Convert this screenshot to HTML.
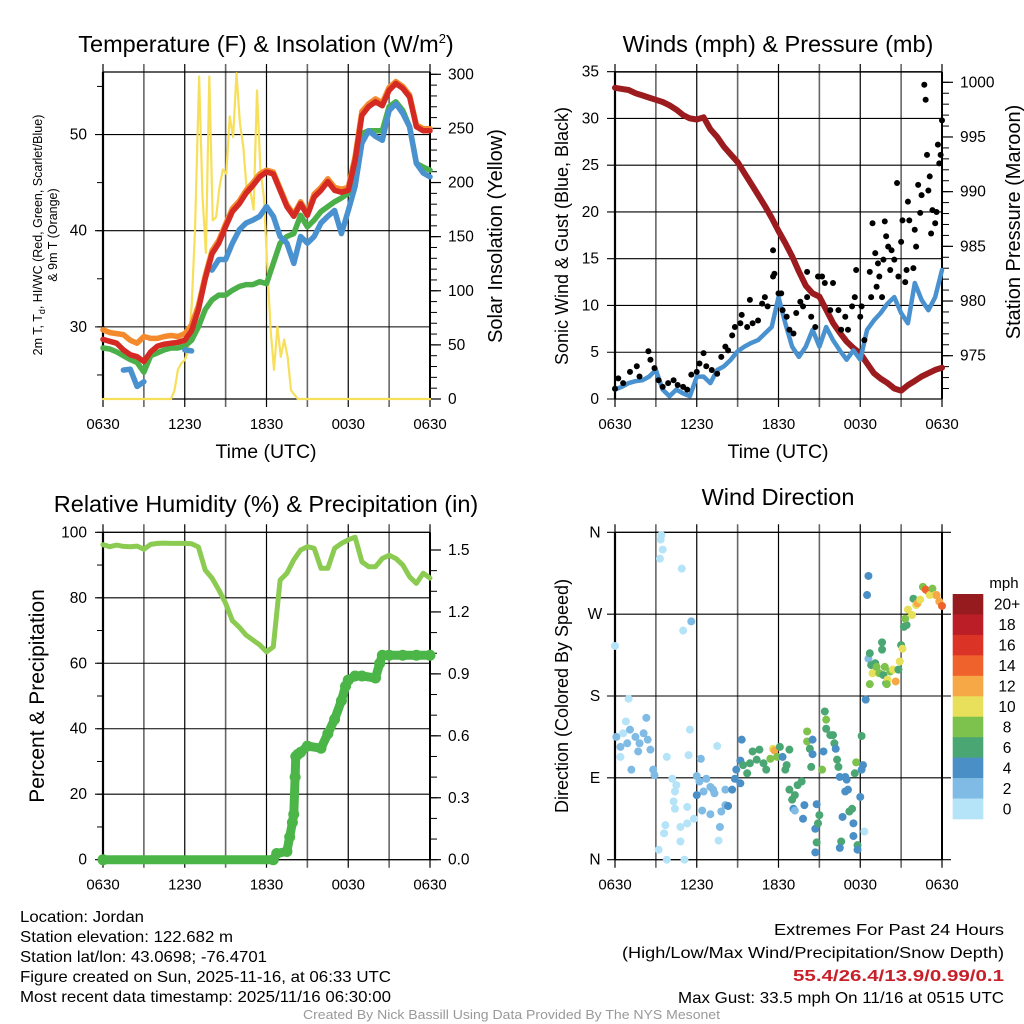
<!DOCTYPE html>
<html><head><meta charset="utf-8"><style>
html,body{margin:0;padding:0;background:#fff;}
svg{display:block;font-family:"Liberation Sans",sans-serif;}
</style></head><body>
<svg id="fig" xmlns="http://www.w3.org/2000/svg" width="1024" height="1024" viewBox="0 0 1024 1024">
<rect x="0" y="0" width="1024" height="1024" fill="#fff"/>
<text x="266" y="52" font-size="23.5" text-anchor="middle">Temperature (F) &amp; Insolation (W/m<tspan dy="-9" font-size="13">2</tspan><tspan dy="9">)</tspan></text>
<text x="778" y="52" font-size="23.5" text-anchor="middle">Winds (mph) &amp; Pressure (mb)</text>
<text x="266" y="512" font-size="23.5" text-anchor="middle">Relative Humidity (%) &amp; Precipitation (in)</text>
<text x="778" y="505" font-size="23.5" text-anchor="middle">Wind Direction</text>
<text x="266" y="458" font-size="19.5" text-anchor="middle">Time (UTC)</text>
<text x="778" y="458" font-size="19.5" text-anchor="middle">Time (UTC)</text>
<text transform="translate(42,235) rotate(-90)" font-size="12.5" text-anchor="middle">2m T, T<tspan dy="3" font-size="9">d</tspan><tspan dy="-3">, HI/WC (Red, Green, Scarlet/Blue)</tspan></text>
<text transform="translate(57,235) rotate(-90)" font-size="12.5" text-anchor="middle">&amp; 9m T (Orange)</text>
<text transform="translate(502,236) rotate(-90)" font-size="20" text-anchor="middle">Solar Insolation (Yellow)</text>
<text transform="translate(568,236) rotate(-90)" font-size="18" text-anchor="middle">Sonic Wind &amp; Gust (Blue, Black)</text>
<text transform="translate(1020,222) rotate(-90)" font-size="20" text-anchor="middle">Station Pressure (Maroon)</text>
<text transform="translate(44,696) rotate(-90)" font-size="21" text-anchor="middle">Percent &amp; Precipitation</text>
<text transform="translate(568,696) rotate(-90)" font-size="18" text-anchor="middle">Direction (Colored By Speed)</text>
<g font-size="16">
<text x="20" y="922" textLength="124" lengthAdjust="spacingAndGlyphs">Location: Jordan</text>
<text x="20" y="942" textLength="213" lengthAdjust="spacingAndGlyphs">Station elevation: 122.682 m</text>
<text x="20" y="962" textLength="247" lengthAdjust="spacingAndGlyphs">Station lat/lon: 43.0698; -76.4701</text>
<text x="20" y="982" textLength="371" lengthAdjust="spacingAndGlyphs">Figure created on Sun, 2025-11-16, at 06:33 UTC</text>
<text x="20" y="1002" textLength="371" lengthAdjust="spacingAndGlyphs">Most recent data timestamp: 2025/11/16 06:30:00</text>
</g>
<g font-size="16">
<text x="774" y="935" textLength="230" lengthAdjust="spacingAndGlyphs">Extremes For Past 24 Hours</text>
<text x="622" y="958" textLength="382" lengthAdjust="spacingAndGlyphs">(High/Low/Max Wind/Precipitation/Snow Depth)</text>
<text x="793" y="981" fill="#c8202a" font-weight="bold" textLength="211" lengthAdjust="spacingAndGlyphs">55.4/26.4/13.9/0.99/0.1</text>
<text x="678" y="1003" textLength="326" lengthAdjust="spacingAndGlyphs">Max Gust: 33.5 mph On 11/16 at 0515 UTC</text>
</g>
<text x="303" y="1019" font-size="13" fill="#999" textLength="417" lengthAdjust="spacingAndGlyphs">Created By Nick Bassill Using Data Provided By The NYS Mesonet</text>
<g id="charts"></g>
</svg>
<script>
// ---------- DATA ----------
const timeLabels = ["0630","1230","1830","0030","0630"];
const halfHours = [0,0.5,1,1.5,2,2.5,3,3.5,4,4.5,5,5.5,6,6.5,7,7.5,8,8.5,9,9.5,10,10.5,11,11.5,12,12.5,13,13.5,14,14.5,15,15.5,16,16.5,17,17.5,18,18.5,19,19.5,20,20.5,21,21.5,22,22.5,23,23.5,24];
const tempRed = [28.7,28.5,28.3,27.6,27.1,26.9,26.4,27.4,28.0,28.2,28.3,28.4,28.6,29.6,31.8,35.0,37.6,38.7,40.4,42.0,42.8,43.9,44.7,45.6,46.1,45.9,44.2,42.5,41.5,42.8,41.6,43.5,44.2,45.1,44.2,44.0,44.2,47.3,52.0,52.9,53.4,53.0,54.6,55.3,54.8,53.9,50.8,50.4,50.4];
const tempOrange = [29.7,29.4,29.3,29.2,28.6,28.3,29.0,28.8,28.8,29.0,29.1,29.0,29.3,30.2,32.2,35.3,37.9,39.0,40.7,42.3,43.1,44.2,45.0,45.9,46.3,46.1,44.4,42.7,41.7,43.0,41.8,43.8,44.5,45.4,44.5,44.3,44.5,47.7,52.4,53.2,53.7,53.3,54.9,55.5,55.0,54.1,51.0,50.6,50.6];
const tempGreen = [27.8,27.7,27.4,27.0,26.6,26.3,25.3,27.0,27.3,27.6,27.8,27.8,28.0,28.6,30.0,31.8,32.8,33.3,33.3,33.8,34.2,34.4,34.4,34.7,34.5,36.6,38.7,39.4,39.7,41.6,40.4,41.1,42.0,42.5,43.0,43.4,43.9,46.0,50.1,50.4,50.4,50.4,52.9,53.4,52.5,50.8,47.0,46.6,46.3];
const tempBlue = [null,null,null,25.5,25.6,23.8,24.3,null,null,null,null,null,27.6,27.5,null,null,35.9,37.0,37.0,38.7,40.1,40.8,41.1,41.5,42.5,41.5,39.4,38.7,36.6,39.4,38.7,39.4,40.8,41.5,42.1,39.7,42.1,44.6,49.1,50.4,49.8,49.4,52.5,53.2,52.2,50.8,47.0,46.0,45.6];
const solarHours = [0,5,5.25,5.5,5.75,6,6.25,6.5,6.75,7.05,7.3,7.55,7.8,8.05,8.3,8.55,8.8,9.05,9.3,9.55,9.8,10.05,10.3,10.55,10.8,11.05,11.3,11.55,11.8,12.05,12.3,12.55,12.8,13.05,13.3,13.55,13.8,14.3,24];
const solarValues = [0,0,8,27,33,36,45,85,156,298,187,135,298,165,168,196,212,208,261,242,301,255,233,193,193,175,285,212,187,125,64,27,67,39,55,39,8,0,0];
const pressure = [999.5,999.4,999.3,999.0,998.8,998.6,998.4,998.2,997.9,997.5,997.0,996.7,996.6,996.8,995.7,995.0,994.1,993.4,992.7,991.7,990.7,989.7,988.7,987.6,986.4,985.3,984.1,982.7,981.4,980.7,980.4,979.2,978.0,977.1,976.3,975.7,975.2,974.3,973.4,972.9,972.5,972.0,971.8,972.3,972.7,973.1,973.4,973.7,973.9];
const sonicWind = [1.0,1.3,1.7,1.9,2.0,2.4,3.1,1.0,0.3,1.0,0.6,0.3,2.4,2.4,1.7,3.1,3.5,4.2,5.1,5.6,6.0,6.3,7.0,7.7,10.9,8.1,5.6,4.5,5.6,7.4,5.6,7.7,6.3,5.2,4.2,5.2,4.2,7.4,8.4,9.2,10.2,10.9,9.2,8.1,12.4,10.6,9.5,10.9,13.8];
const gustHours = [0,0.24,0.6,1.1,1.6,1.8,2.45,2.6,2.9,3.2,3.5,3.9,4.3,4.6,5,5.3,5.6,6,6.2,6.5,6.7,7.1,7.5,7.8,8.1,8.3,8.6,8.8,9.2,9.3,9.7,9.9,10.1,10.5,10.8,11,11.2,11.6,11.6,11.7,12,12.2,12.3,12.6,12.8,13.1,13.3,13.6,13.8,14.1,14.1,14.4,14.7,14.9,15.2,15.4,15.8,16,16.4,16.6,16.9,17.1,17.4,17.6,17.7,18,18.1,18.3,18.7,18.8,18.9,19.1,19.2,19.3,19.4,19.6,19.7,19.8,19.9,20.05,20.2,20.3,20.5,20.7,20.8,21,21.1,21.3,21.4,21.5,21.6,21.9,22,22.1,22.25,22.4,22.5,22.7,22.8,22.9,23,23.1,23.2,23.3,23.5,23.6,23.7,23.8,23.9,24];
const gustValues = [1.1,2.2,1.7,2.9,3.5,2.4,5.1,4.2,3.3,2.0,1.3,1.7,2.0,1.5,1.3,1.0,2.6,2.9,3.8,4.9,3.5,3.1,2.7,4.5,5.6,5.2,6.8,7.7,8.1,9.0,7.7,10.6,8.1,8.4,10.2,10.9,9.9,15.9,13.1,13.4,11.3,11.3,9.5,8.8,7.4,7.0,9.2,10.4,9.9,10.9,13.6,8.8,7.7,13.1,13.1,12.4,9.5,12.4,9.5,7.4,8.8,7.4,9.9,10.9,13.8,8.8,9.9,6.3,13.6,10.9,18.8,15.6,12.0,14.5,13.1,10.9,14.9,19.0,17.4,16.3,13.8,15.9,14.9,23.1,13.1,16.8,19.1,12.5,13.8,21.1,19.1,14.0,18.1,16.3,22.9,19.9,21.8,33.6,32.0,26.1,22.3,23.8,17.7,20.2,18.8,20.0,27.2,25.2,26.1,29.8];
const rhValues = [96.2,95.6,96.1,95.7,95.6,95.8,94.8,96.3,96.6,96.7,96.6,96.6,96.6,96.5,95.5,88.5,86.0,82.4,78.3,73.0,71.0,68.6,67.1,65.6,63.5,65.0,85.4,87.5,91.6,94.6,95.6,95.1,89.0,89.0,95.1,96.6,97.7,98.5,91.0,89.5,89.5,92.0,93.0,92.0,90.0,86.4,84.4,87.5,86.0];
const precipHours = [0,12.5,12.75,13.5,13.7,13.9,14.0,14.1,14.15,14.3,14.5,15,16,16.5,17,17.5,17.8,18,18.5,19,20,20.3,20.5,21,22,23,24];
const precipValues = [0,0,0.03,0.04,0.11,0.18,0.22,0.40,0.50,0.51,0.52,0.55,0.54,0.61,0.68,0.77,0.84,0.87,0.89,0.89,0.88,0.95,0.99,0.99,0.99,0.99,0.99];
const dirHoursMorning = [0,0.1,0.4,0.6,0.9,1.1,1.2,1.5,1.7,1.8,2.1,2.3,2.4,2.6,2.8,2.9,1.0,0.8,0.4,3.4,3.35,3.5,3.3,4.9,5.0,5.6,3.8,4.2,4.5,4.4,4.3,4.4,3.7,3.6,3.2,3.8,4.8,5.3,4.8,5.1,5.4,5.5,5.3,5.8,7.6,7.5,6.0,6.2,6.5,6.7,7.0,7.2,6.0,6.3,6.4,7.0,7.3,7.7,7.8,8.1,8.3,8.1,8.6,8.8,8.9,9.2,9.2,9.3];
const dirDegreesMorning = [235,135,124,139,128,143,99,135,119,128,139,156,132,121,99,93,177,152,113,357,352,341,331,320,252,262,113,89,82,75,64,56,38,29,11,0,36,40,20,0,115,143,58,45,21,125,92,86,75,89,80,77,71,111,54,50,73,36,53,60,59,77,77,89,99,84,109,132];
const dirSpeedsMorning = [1,3,2,1,2,3,3,3,3,3,3,3,3,3,3,3,1,1,1,1,1,1,1,1,1,3,1,1,1,1,1,1,1,1,1,1,1,1,1,1,1,1,1,1,1,1,3,3,3,3,3,3,5,3,3,3,3,3,3,3,5,3,5,5,5,5,5,5];
const dirHoursAfternoon = [9.4,9.7,9.9,10.1,10.4,10.6,10.9,11.1,11.4,11.6,11.7,11.9,12.1,12.3,12.6,12.8,12.5,12.8,13.0,13.2,13.4,13.7,13.1,13.2,13.8,13.9,14.1,14.1,14.3,14.4,14.5,14.5,14.7,14.8,14.9,15.0,14.8,14.7,15.2,15.3,15.4,15.5,15.5,15.8,16.0,16.1,16.2,16.3,16.4,16.5,16.9,17.0,16.9,17.1,17.2,17.4,16.7,16.6,16.5,17.5,17.5,17.8,17.8,18.0,17.6,17.7,18.1,18.2,18.1,18.3,18.4,18.5,18.6];
const dirDegreesAfternoon = [104,95,106,119,110,121,106,99,111,122,120,113,124,113,104,121,99,77,66,71,82,86,56,54,45,60,141,130,122,102,132,116,34,61,40,49,19,8,99,119,163,154,144,137,137,128,122,110,102,91,91,88,75,77,53,56,47,20,13,40,26,16,11,69,95,107,99,104,136,31,176,291,312];
const dirSpeedsAfternoon = [7,7,7,7,7,7,7,7,9,11,13,9,7,5,7,7,7,7,7,7,7,7,5,3,5,5,9,9,7,7,5,5,5,5,7,7,7,5,9,5,7,9,7,7,7,7,5,7,7,5,5,5,5,5,7,7,5,7,5,5,5,7,5,5,7,9,5,5,7,1,5,5,5];
const dirHoursOvernight = [18.6,18.7,18.8,18.9,19.1,19.2,19.4,19.6,19.6,19.7,19.8,19.9,20.0,20.2,20.4,20.6,20.8,20.9,21.0,21.1,21.2,21.4,21.3,21.5,21.8,21.9,22.1,22.2,22.4,22.6,22.8,23.0,23.1,23.3,23.5,23.6,23.8,24.0,18.7,19.95];
const dirDegreesOvernight = [221,227,214,205,216,212,205,231,239,203,212,194,198,207,209,196,209,218,236,232,256,258,265,275,269,287,280,282,286,300,297,295,291,298,291,291,284,279,193,193];
const dirSpeedsOvernight = [3,7,7,11,7,9,9,7,7,7,9,7,11,9,11,13,7,11,7,11,7,7,9,11,11,7,11,13,11,9,15,15,11,9,11,13,13,15,9,9];
const speedBinLabels = ["0","2","4","6","8","10","12","14","16","18","20+"];
const speedBinColors = ["#b5e3f7","#7fbbe4","#4a8fc6","#4aa672","#7cc24c","#e8e05a","#f7a846","#f0622b","#dc3327","#bb1e26","#951b1e"];
const tempTicks = [30,40,50];
const solarTicks = [0,50,100,150,200,250,300];
const windTicks = [0,5,10,15,20,25,30,35];
const pressureTicks = [975,980,985,990,995,1000];
const rhTicks = [0,20,40,60,80,100];
const precipTicks = [0,0.3,0.6,0.9,1.2,1.5];
const dirTicks = [0,90,180,270,360];
const dirTickLabels = ["N","E","S","W","N"];

// ---------- RENDER ----------
const NS = "http://www.w3.org/2000/svg";
const root = document.getElementById("charts");
function mk(tag, attrs, parent){
  const e = document.createElementNS(NS, tag);
  for (const k in attrs) e.setAttribute(k, attrs[k]);
  (parent||root).appendChild(e);
  return e;
}
function lin(d0,d1,r0,r1){ return v => r0 + (v-d0)*(r1-r0)/(d1-d0); }
function pathFrom(xs, ys, fx, fy){
  let d = "", pen = false;
  for (let i=0;i<xs.length;i++){
    if (ys[i]===null || ys[i]===undefined){ pen=false; continue; }
    d += (pen?"L":"M") + fx(xs[i]).toFixed(1) + "," + fy(ys[i]).toFixed(1);
    pen = true;
  }
  return d;
}
function frame(name, x0, x1, top, bottom){
  const g = mk("g", {});
  
  
  const fx = lin(0,24,x0,x1);
  for (let h=0; h<=24; h+=3){
    const major = h%6===0;
    const ln = mk("line", {x1:fx(h), x2:fx(h), y1:top-8, y2:bottom+8, stroke: major?"#000":"#666", "stroke-width": major?1.2:1.6}, g);
    
    
  }
  for (let i=0;i<timeLabels.length;i++){
    const t = mk("text", {x:fx(i*6), y:bottom+30, "font-size":15, "text-anchor":"middle"}, g);
    t.textContent = timeLabels[i];
    
    
  }
  mk("line",{x1:x0,x2:x0,y1:top,y2:bottom,stroke:"#000","stroke-width":2.2},g);
  mk("line",{x1:x1,x2:x1,y1:top,y2:bottom,stroke:"#000","stroke-width":2},g);
  mk("line",{x1:x0,x2:x1,y1:top,y2:top,stroke:"#000","stroke-width":1.2},g);
  mk("line",{x1:x0,x2:x1,y1:bottom,y2:bottom,stroke:"#000","stroke-width":1.2},g);
  return fx;
}
function leftAxis(name, ticks, fy, x0, x1, labelFn, grid, minorStep, lo, hi){
  const g = mk("g", {});
  
  
  if (minorStep){
    for (let v=Math.ceil(lo/minorStep)*minorStep; v<=hi+1e-9; v+=minorStep){
      mk("line",{x1:x0-6,x2:x0,y1:fy(v),y2:fy(v),stroke:"#000","stroke-width":1},g);
    }
  }
  ticks.forEach((v,i)=>{
    if (grid) mk("line",{x1:x0-8,x2:x1,y1:fy(v),y2:fy(v),stroke:"#000","stroke-width":1.1},g);
    const t = mk("text",{x:x0-16,y:fy(v)+5,"font-size":15.5,"text-anchor":"end"},g);
    t.textContent = labelFn(v,i);
    
    
  });
}
function rightAxis(name, ticks, fy, x1, labelFn, minorStep, lo, hi){
  const g = mk("g", {});
  
  
  for (let v=Math.ceil(lo/minorStep-1e-9)*minorStep; v<=hi+1e-9; v+=minorStep){
    mk("line",{x1:x1,x2:x1+7,y1:fy(v),y2:fy(v),stroke:"#000","stroke-width":1},g);
  }
  ticks.forEach((v,i)=>{
    mk("line",{x1:x1,x2:x1+11,y1:fy(v),y2:fy(v),stroke:"#000","stroke-width":1.2},g);
    const t = mk("text",{x:x1+18,y:fy(v)+5,"font-size":15.5,"text-anchor":"start"},g);
    t.textContent = labelFn(v,i);
    
    
  });
}

// Panel 1
(function(){
  const x0=103,x1=430,top=72,bottom=399;
  const fx = frame("temperature-chart",x0,x1,top,bottom);
  const fy = lin(22.5,56.5,bottom,top);
  const fs = lin(0,300,bottom,74.3);
  leftAxis("temperature-y-axis", tempTicks, fy, x0, x1, v=>v, true, 5, 25, 55);
  rightAxis("solar-y-axis", solarTicks, fs, x1, v=>v, 10, 0, 300);
  const series = [
    ["solar-insolation-line", solarHours, solarValues, fs, "#f7df5a", 2.2],
    ["orange-9m-temp-line", halfHours, tempOrange, fy, "#f48a2c", 5.5],
    ["green-dewpoint-line", halfHours, tempGreen, fy, "#4bb04a", 5.5],
    ["blue-windchill-line", halfHours, tempBlue, fy, "#4a92cf", 5.5],
    ["red-2m-temp-line", halfHours, tempRed, fy, "#d42a23", 5.5]
  ];
  series.forEach(s=>{
    const p = mk("path",{d:pathFrom(s[1],s[2],fx,s[3]),fill:"none",stroke:s[4],"stroke-width":s[5],"stroke-linejoin":"round","stroke-linecap":"round"});
    
    
  });
})();

// Panel 2
(function(){
  const x0=615,x1=942,top=72,bottom=399;
  const fx = frame("winds-chart",x0,x1,top,bottom);
  const fy = lin(0,35,bottom,71.7);
  const fp = lin(975,1000,355.7,82.3);
  leftAxis("wind-y-axis", windTicks, fy, x0, x1, v=>v, true, 0, 0, 0);
  rightAxis("pressure-y-axis", pressureTicks, fp, x1, v=>v, 1, 971.1, 1000.9);
  const p = mk("path",{d:pathFrom(halfHours,pressure,fx,fp),fill:"none",stroke:"#9b1b1e","stroke-width":6,"stroke-linejoin":"round","stroke-linecap":"round"});
  
  
  const w = mk("path",{d:pathFrom(halfHours,sonicWind,fx,fy),fill:"none",stroke:"#4a92cf","stroke-width":4.5,"stroke-linejoin":"round","stroke-linecap":"round"});
  
  
  for (let i=0;i<gustHours.length;i++){
    const c = mk("circle",{cx:fx(gustHours[i]),cy:fy(gustValues[i]),r:3,fill:"#000"});
    
    
  }
})();

// Panel 3
(function(){
  const x0=103,x1=430,top=532.3,bottom=859.7;
  const fx = frame("humidity-chart",x0,x1,top,bottom);
  const fy = lin(0,100,bottom,top);
  const fp = lin(0,1.5,bottom,550);
  leftAxis("percent-y-axis", rhTicks, fy, x0, x1, v=>v, true, 10, 0, 100);
  rightAxis("precip-y-axis", precipTicks, fp, x1, v=>v.toFixed(1), 0.1, 0, 1.58);
  const r = mk("path",{d:pathFrom(halfHours,rhValues,fx,fy),fill:"none",stroke:"#8ccb52","stroke-width":5,"stroke-linejoin":"round","stroke-linecap":"round"});
  
  
  const pr = mk("path",{d:pathFrom(precipHours,precipValues,fx,fp),fill:"none",stroke:"#4bb548","stroke-width":9,"stroke-linejoin":"round","stroke-linecap":"round"});
  
  
  for (let i=0;i<precipHours.length;i++){
    const c = mk("circle",{cx:fx(precipHours[i]),cy:fp(precipValues[i]),r:5.5,fill:"#4bb548"});
    
    
  }
})();

// Panel 4
(function(){
  const x0=615,x1=942,top=532.3,bottom=859.7;
  const fx = frame("wind-direction-chart",x0,x1,top,bottom);
  const fy = lin(0,360,bottom,top);
  const g = mk("g",{});
  
  
  dirTicks.forEach((v,i)=>{
    mk("line",{x1:x0-8,x2:x1+9,y1:fy(v),y2:fy(v),stroke:"#000","stroke-width":1.1},g);
    const t = mk("text",{x:x0-20,y:fy(v)+5,"font-size":15.5,"text-anchor":"middle"},g);
    t.textContent = dirTickLabels[i];
    
    
  });
  const groups = [
    [dirHoursMorning, dirDegreesMorning, dirSpeedsMorning],
    [dirHoursAfternoon, dirDegreesAfternoon, dirSpeedsAfternoon],
    [dirHoursOvernight, dirDegreesOvernight, dirSpeedsOvernight]
  ];
  groups.forEach(gr=>{
    const n = Math.min(gr[0].length, gr[1].length, gr[2].length);
    for (let i=0;i<n;i++){
      const bin = Math.max(0, Math.min(10, Math.floor(gr[2][i]/2)));
      const c = mk("circle",{cx:fx(gr[0][i]),cy:fy(gr[1][i]),r:4,fill:speedBinColors[bin]});
      
      
    }
  });
  const cb = mk("g",{});
  
  
  const cbTop=594, cbH=225/11;
  const mph = mk("text",{x:1004,y:588,"font-size":15,"text-anchor":"middle"},cb);
  mph.textContent = "mph";
  
  
  for (let i=0;i<speedBinColors.length;i++){
    const k = speedBinColors.length-1-i;
    const y = cbTop + i*cbH;
    const rc = mk("rect",{x:952.7,y:y,width:30.6,height:cbH+0.3,fill:speedBinColors[k]},cb);
    
    
    const t = mk("text",{x:1007,y:y+cbH/2+5.5,"font-size":15.5,"text-anchor":"middle"},cb);
    t.textContent = speedBinLabels[k];
    
    
  }
})();
</script>
</body></html>
